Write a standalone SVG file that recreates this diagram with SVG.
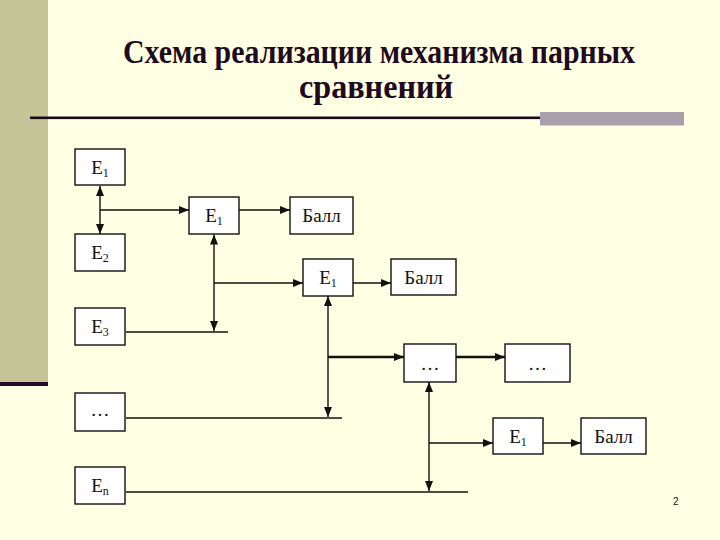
<svg xmlns="http://www.w3.org/2000/svg" width="720" height="540" viewBox="0 0 720 540">
<defs>
<style>
.bg{fill:#FFFFE3}
.box{fill:#FFFFFF;stroke:#111;stroke-width:1.4}
.lbl{font-family:"Liberation Serif","Times New Roman",serif;font-size:19px;fill:#111;text-anchor:middle}
.sub{font-size:12px}
.ln{stroke:#111;stroke-width:1.4;fill:none}
.thick{stroke-width:2.6}
.title{font-family:"Liberation Serif","Times New Roman",serif;font-weight:bold;font-size:33px;fill:#200A20;text-anchor:middle}
</style>
<marker id="ah" markerWidth="10" markerHeight="8" refX="10" refY="4" orient="auto-start-reverse" markerUnits="userSpaceOnUse">
<path d="M0,0 L10,4 L0,8 Z" fill="#111"/>
</marker>
</defs>
<rect class="bg" x="0" y="0" width="720" height="540"/>
<rect x="0" y="0" width="48" height="382" fill="#C5C597"/>
<rect x="0" y="382" width="48" height="4" fill="#2A0A2A"/>
<g id="title">
<text class="title" x="379" y="63" textLength="512" lengthAdjust="spacingAndGlyphs">Схема реализации механизма парных</text>
<text class="title" x="376" y="98" textLength="154" lengthAdjust="spacingAndGlyphs">сравнений</text>
</g>
<rect x="30" y="116.5" width="510" height="2.6" fill="#1A0A1A"/>
<rect x="540" y="112" width="144" height="13.5" fill="#A8A0AA"/>

<g id="connectors">
<line class="ln" x1="100" y1="186" x2="100" y2="234" marker-start="url(#ah)" marker-end="url(#ah)"/>
<line class="ln" x1="100" y1="210" x2="189" y2="210" marker-end="url(#ah)"/>
<line class="ln" x1="239" y1="210" x2="290" y2="210" marker-end="url(#ah)"/>
<line class="ln" x1="214" y1="234.5" x2="214" y2="331" marker-start="url(#ah)" marker-end="url(#ah)"/>
<line class="ln" x1="214" y1="283" x2="303" y2="283" marker-end="url(#ah)"/>
<line class="ln" x1="353" y1="283" x2="391" y2="283" marker-end="url(#ah)"/>
<line class="ln" x1="126" y1="332" x2="228" y2="332"/>
<line class="ln" x1="328" y1="296" x2="328" y2="417" marker-start="url(#ah)" marker-end="url(#ah)"/>
<line class="ln thick" x1="328" y1="357" x2="404" y2="357" marker-end="url(#ah)"/>
<line class="ln thick" x1="456" y1="357" x2="505" y2="357" marker-end="url(#ah)"/>
<line class="ln" x1="126" y1="418" x2="342" y2="418"/>
<line class="ln" x1="429" y1="382" x2="429" y2="491" marker-start="url(#ah)" marker-end="url(#ah)"/>
<line class="ln" x1="429" y1="443" x2="493" y2="443" marker-end="url(#ah)"/>
<line class="ln" x1="543" y1="443" x2="581" y2="443" marker-end="url(#ah)"/>
<line class="ln" x1="126" y1="492" x2="468" y2="492"/>
</g>

<g id="e1a"><rect class="box" x="75" y="149" width="50" height="36"/><text class="lbl" x="100" y="174">Е<tspan class="sub" dy="3">1</tspan></text></g>
<g id="e2"><rect class="box" x="75" y="234" width="50" height="37"/><text class="lbl" x="100" y="259">Е<tspan class="sub" dy="3">2</tspan></text></g>
<g id="e3"><rect class="box" x="75" y="308" width="50" height="37"/><text class="lbl" x="100" y="333">Е<tspan class="sub" dy="3">3</tspan></text></g>
<g id="dots1"><rect class="box" x="75" y="393" width="50" height="38"/><text class="lbl" x="100" y="416">…</text></g>
<g id="en"><rect class="box" x="75" y="467" width="50" height="37"/><text class="lbl" x="100" y="492">Е<tspan class="sub" dy="3">n</tspan></text></g>
<g id="e1b"><rect class="box" x="189" y="197" width="50" height="37"/><text class="lbl" x="214" y="222">Е<tspan class="sub" dy="3">1</tspan></text></g>
<g id="ball1"><rect class="box" x="290" y="197" width="63" height="37"/><text class="lbl" x="321.5" y="222">Балл</text></g>
<g id="e1c"><rect class="box" x="303" y="259" width="50" height="37"/><text class="lbl" x="328" y="284">Е<tspan class="sub" dy="3">1</tspan></text></g>
<g id="ball2"><rect class="box" x="391" y="259" width="65" height="36"/><text class="lbl" x="423.5" y="284">Балл</text></g>
<g id="dots2"><rect class="box" x="404" y="344" width="52" height="38"/><text class="lbl" x="430" y="370">…</text></g>
<g id="dots3"><rect class="box" x="505" y="344" width="65" height="38"/><text class="lbl" x="537.5" y="370">…</text></g>
<g id="e1d"><rect class="box" x="493" y="418" width="50" height="36"/><text class="lbl" x="518" y="443">Е<tspan class="sub" dy="3">1</tspan></text></g>
<g id="ball3"><rect class="box" x="581" y="418" width="65" height="36"/><text class="lbl" x="613.5" y="443">Балл</text></g>
<text x="673" y="505" font-family="Liberation Sans, Arial, sans-serif" font-size="10" fill="#111">2</text>
</svg>
